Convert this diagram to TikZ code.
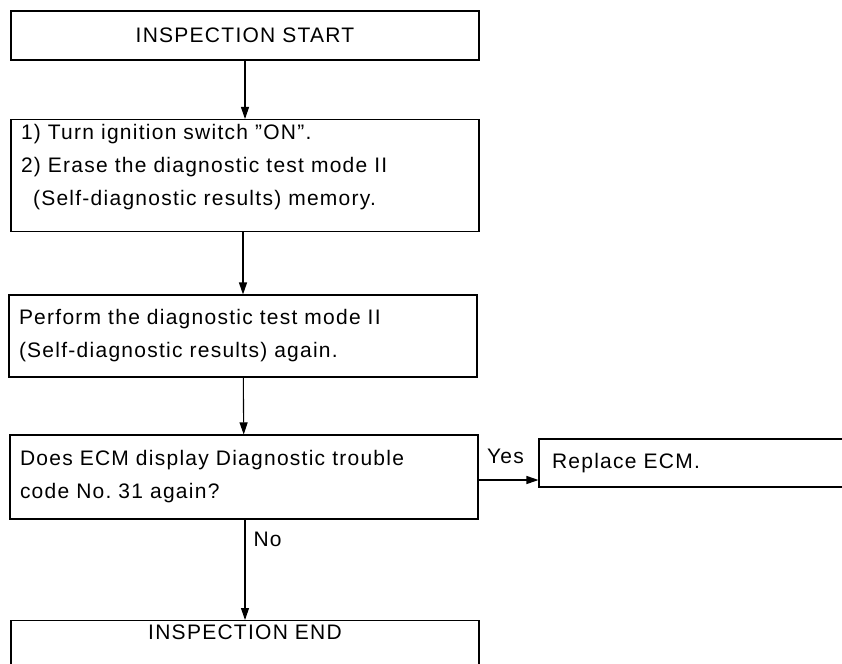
\documentclass[tikz,border=0pt]{standalone}
\usepackage{fontspec}
\setmainfont{Liberation Sans}[LetterSpace=6]
\usetikzlibrary{arrows.meta}

\begin{document}
\frenchspacing
\begin{tikzpicture}[x=1pt,y=-1pt,>={Triangle[length=12pt,width=8pt]},line width=1.1pt,
  font=\fontsize{21}{33}\selectfont,
  box/.style={draw,text width=448pt,inner xsep=10pt,inner ysep=4pt,align=left},
  titlebox/.style={box,align=center}]
\useasboundingbox (0,0) rectangle (842,663);
\node[titlebox,minimum height=49pt] (start) at (245,35.5) {INSPECTION START};
\node[box,anchor=north,inner ysep=5pt,text depth=87pt] (erase) at (245,119) {1) Turn ignition switch ''ON''.\\
2) Erase the diagnostic test mode II\\
\hspace*{12pt}(Self-diagnostic results) memory.};
\node[box,minimum height=82pt] (again) at (243,336) {Perform the diagnostic test mode II\\
(Self-diagnostic results) again.};
\node[box,minimum height=84pt] (ask) at (244,477) {Does ECM display Diagnostic trouble\\
code No. 31 again?};
\node[box,text width=285pt,inner xsep=13pt,minimum height=48pt] (fix) at (694.5,463) {Replace ECM.};
\node[titlebox,anchor=north,text depth=40pt] (finish) at (245,620) {INSPECTION END};
\coordinate (yesrow) at (0,480);
\draw[->] (start) -- (erase);
\draw[->] (erase.south -| again) -- (again);
\draw[->] (again) -- (ask);
\draw[->] (ask.east |- yesrow) -- node[pos=0.1,above right,inner sep=2pt,yshift=14pt]{Yes} (fix.west |- yesrow);
\draw[->] (ask.south -| finish) -- node[pos=0.2,right,inner sep=8pt]{No} (finish);
\end{tikzpicture}
\end{document}
